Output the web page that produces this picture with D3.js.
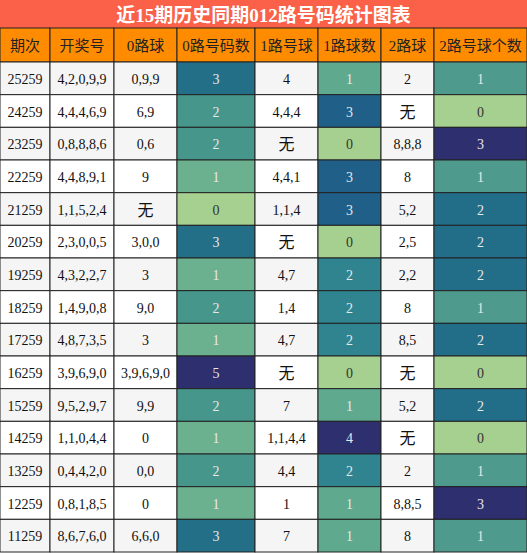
<!DOCTYPE html><html><head><meta charset="utf-8"><script src="https://cdn.jsdelivr.net/npm/d3@7"></script>
<style>body{margin:0;background:#fff}</style></head><body><svg id="c" width="527" height="553"></svg><script>
const title="近15期历史同期012路号码统计图表";
const headers=["期次","开奖号","0路球","0路号码数","1路号球","1路球数","2路球","2路号球个数"];
const periods=["25259","24259","23259","22259","21259","20259","19259","18259","17259","16259","15259","14259","13259","12259","11259"];
const draws=["4,2,0,9,9","4,4,4,6,9","0,8,8,8,6","4,4,8,9,1","1,1,5,2,4","2,3,0,0,5","4,3,2,2,7","1,4,9,0,8","4,8,7,3,5","3,9,6,9,0","9,5,2,9,7","1,1,0,4,4","0,4,4,2,0","0,8,1,8,5","8,6,7,6,0"];
const r0=["0,9,9","6,9","0,6","9","无","3,0,0","3","9,0","3","3,9,6,9,0","9,9","0","0,0","0","6,6,0"];
const c0=[3,2,2,1,0,3,1,2,1,5,2,1,2,1,3];
const r1=["4","4,4,4","无","4,4,1","1,1,4","无","4,7","1,4","4,7","无","7","1,1,4,4","4,4","1","7"];
const c1=[1,3,0,3,3,0,2,2,2,0,1,4,2,1,1];
const r2=["2","无","8,8,8","8","5,2","2,5","2,2","8","8,5","无","5,2","无","2","8,8,5","8"];
const c2=[1,0,3,1,2,2,2,1,2,0,2,0,1,3,1];
const svg=d3.select("#c");
const xb=[0,50,114,177,255,318,381,434,527];
const colX=i=>xb[i], colW=i=>xb[i+1]-xb[i];
const y=d3.scaleBand().domain(d3.range(15)).range([62,552]);
const cmap=d3.scaleLinear().domain([0,0.2,0.25,0.33,0.4,0.5,0.6,0.67,0.75,1]).range(["#a6d08f","#6bb08f","#5fa98f","#4e9a8c","#46968c","#2f8490","#236f88","#226e89","#1f5f88","#2d2f6e"]);
svg.append("rect").attr("x",0).attr("y",0).attr("width",527).attr("height",28).attr("fill","#fa6148");
svg.append("text").attr("x",263.5).attr("y",15).attr("text-anchor","middle").attr("dominant-baseline","central").attr("fill","#fff").attr("font-size",19).attr("font-weight","bold").attr("font-family","Liberation Serif,Noto Sans CJK SC").text(title);
const font="Liberation Serif,Noto Sans CJK SC";
function cell(i,y0,h,txt,fill,col,fs){
  svg.append("rect").attr("x",colX(i)).attr("y",y0).attr("width",colW(i)).attr("height",h).attr("fill",fill).attr("stroke","#222").attr("stroke-width",1);
  svg.append("text").attr("x",colX(i)+colW(i)/2).attr("y",y0+h/2+1).attr("text-anchor","middle").attr("dominant-baseline","central").attr("font-family",font).attr("font-size",fs).attr("fill",col).text(txt);
}
headers.forEach((h,i)=>cell(i,28,34,h,"#ff8c00","#222",15));
const maxes=[d3.max(c0),d3.max(c1),d3.max(c2)];
periods.forEach((p,k)=>{
  const bg=k%2==0?"#f5f5f5":"#ffffff";
  const cnt=[c0[k],c1[k],c2[k]];
  const vals=[p,draws[k],r0[k],c0[k],r1[k],c1[k],r2[k],c2[k]];
  vals.forEach((v,i)=>{
    const fs=v=="无"?16:14;
    if(i==3||i==5||i==7){const j=(i-3)/2;const t=cnt[j]/maxes[j];cell(i,y(k),y.bandwidth(),String(v),cmap(t),t==0?"#333":"#e8e8e8",fs);}
    else cell(i,y(k),y.bandwidth(),v,bg,"#111",fs);
  });
});
</script></body></html>
